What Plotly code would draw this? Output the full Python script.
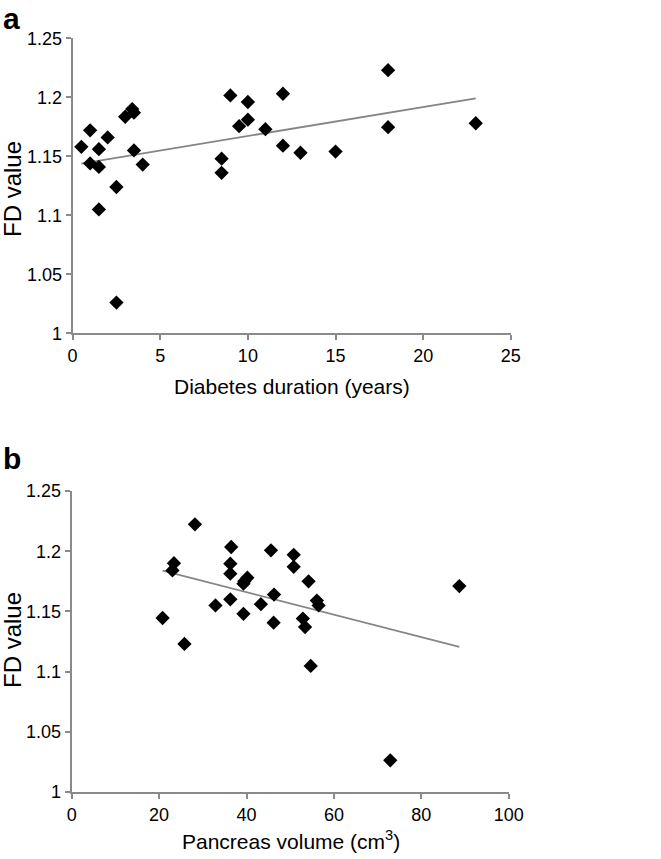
import numpy as np
import plotly.graph_objects as go

# Panel a: diabetes duration (years) vs FD value
duration_years = [0.5, 1, 1, 1.5, 1.5, 1.5, 2, 2.5, 2.5, 3, 3.4, 3.5, 3.5, 4,
                  8.5, 8.5, 9, 9.5, 10, 10, 11, 12, 12, 13, 15, 18, 18, 23]
fd_a = [1.158, 1.172, 1.144, 1.156, 1.141, 1.105, 1.166, 1.124, 1.026, 1.1835, 1.190, 1.187, 1.155, 1.143,
        1.148, 1.136, 1.2016, 1.1755, 1.196, 1.181, 1.173, 1.203, 1.159, 1.153, 1.154, 1.223, 1.1747, 1.178]

# Panel b: pancreas volume (cm3) vs FD value
pancreas_volume = [20.8, 23.4, 23.05, 25.8, 28.2, 32.9, 36.5, 36.3, 36.3, 36.3, 39.3, 39.3, 40.2, 39.5,
                   43.3, 45.6, 46.3, 46.2, 50.8, 50.8, 54.2, 52.9, 53.4, 54.7, 56.1, 56.5, 72.9, 88.7]
fd_b = [1.1445, 1.190, 1.184, 1.123, 1.2223, 1.155, 1.2035, 1.1896, 1.1813, 1.160, 1.148, 1.173, 1.178, 1.175,
        1.156, 1.2007, 1.164, 1.1406, 1.197, 1.187, 1.175, 1.144, 1.137, 1.1047, 1.159, 1.155, 1.0263, 1.171]

y_tick_vals = [1, 1.05, 1.1, 1.15, 1.2, 1.25]
y_tick_text = ["1", "1.05", "1.1", "1.15", "1.2", "1.25"]
xa_tick_vals = [0, 5, 10, 15, 20, 25]
xb_tick_vals = [0, 20, 40, 60, 80, 100]

FONT = "Liberation Sans, Arial, Helvetica, sans-serif"
W, H = 661, 859


def fit_line(x, y):
    x = np.asarray(x, float)
    y = np.asarray(y, float)
    m, c = np.polyfit(x, y, 1)
    xs = np.array([x.min(), x.max()])
    return xs, m * xs + c


fig = go.Figure()

for x, y, xa, ya in [(duration_years, fd_a, "x", "y"), (pancreas_volume, fd_b, "x2", "y2")]:
    lx, ly = fit_line(x, y)
    fig.add_trace(go.Scatter(x=lx, y=ly, mode="lines", line=dict(color="#858585", width=1.8),
                             xaxis=xa, yaxis=ya, showlegend=False, hoverinfo="skip"))
    fig.add_trace(go.Scatter(x=x, y=y, mode="markers",
                             marker=dict(symbol="diamond", size=11, color="black", line=dict(width=0)),
                             xaxis=xa, yaxis=ya, showlegend=False))

axis_common = dict(showgrid=False, zeroline=False, showline=True, linecolor="#8a8a8a", linewidth=2,
                   ticks="outside", ticklen=5, tickwidth=1.5, tickcolor="#8a8a8a",
                   tickfont=dict(family=FONT, size=18, color="black"), automargin=False, fixedrange=True)

fig.update_layout(
    width=W, height=H,
    margin=dict(l=0, r=0, t=0, b=0),
    paper_bgcolor="white", plot_bgcolor="white",
    xaxis=dict(domain=[72.6 / W, 510.8 / W], range=[0, 25], tickvals=xa_tick_vals, anchor="y", **axis_common),
    yaxis=dict(domain=[1 - 333.3 / H, 1 - 38.3 / H], range=[1, 1.25], tickvals=y_tick_vals,
               ticktext=y_tick_text, anchor="x", **axis_common),
    xaxis2=dict(domain=[71.7 / W, 508.7 / W], range=[0, 100], tickvals=xb_tick_vals, anchor="y2", **axis_common),
    yaxis2=dict(domain=[1 - 792 / H, 1 - 491 / H], range=[1, 1.25], tickvals=y_tick_vals,
                ticktext=y_tick_text, anchor="x2", **axis_common),
)

ann = []
ann.append(dict(text="<b>a</b>", x=1 / W, y=1, xref="paper", yref="paper", xanchor="left", yanchor="top",
                showarrow=False, font=dict(family=FONT, size=30, color="black")))
ann.append(dict(text="<b>b</b>", x=1 / W, y=1 - 440 / H, xref="paper", yref="paper", xanchor="left", yanchor="top",
                showarrow=False, font=dict(family=FONT, size=30, color="black")))
ann.append(dict(text="Diabetes duration (years)", x=292 / W, y=1 - 387 / H, xref="paper", yref="paper",
                xanchor="center", yanchor="middle", showarrow=False, font=dict(family=FONT, size=21, color="black")))
ann.append(dict(text="Pancreas volume (cm<sup>3</sup>)", x=291 / W, y=1 - 840 / H, xref="paper", yref="paper",
                xanchor="center", yanchor="middle", showarrow=False, font=dict(family=FONT, size=21, color="black")))
ann.append(dict(text="FD value", x=12 / W, y=1 - 189 / H, xref="paper", yref="paper", textangle=-90,
                xanchor="center", yanchor="middle", showarrow=False, font=dict(family=FONT, size=24, color="black")))
ann.append(dict(text="FD value", x=12 / W, y=1 - 640 / H, xref="paper", yref="paper", textangle=-90,
                xanchor="center", yanchor="middle", showarrow=False, font=dict(family=FONT, size=24, color="black")))
fig.update_layout(annotations=ann)

fig.write_html("out.html", config={"displayModeBar": False},
               post_script="document.body.style.margin='0';document.body.style.padding='0';")
